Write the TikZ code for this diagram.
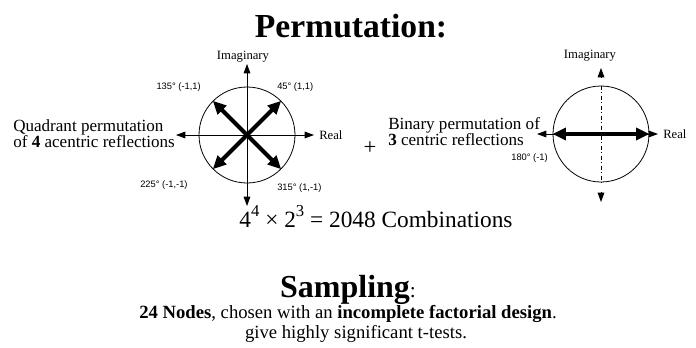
\documentclass[tikz,border=0pt]{standalone}
\usepackage{fontspec}
\setmainfont{Liberation Serif}
\newfontfamily\lblfont{Liberation Sans}
\usetikzlibrary{arrows.meta}
\begin{document}
\begin{tikzpicture}[x=0.75pt,y=-0.75pt,
  axis/.style={line width=0.6pt,{Triangle[length=7pt,width=5pt]}-{Triangle[length=7pt,width=5pt]}},
  tiponly/.style={line width=0.6pt,-{Triangle[length=7pt,width=5pt]}},
  thickarr/.style={line width=3pt,-{Triangle[length=10pt,width=9pt]}},
  thickdbl/.style={line width=3pt,{Triangle[length=10pt,width=9pt]}-{Triangle[length=10pt,width=9pt]}},
  ring/.style={draw,circle,line width=0.6pt,minimum size=72pt,inner sep=0pt},
  deg/.style={inner sep=0pt,font=\lblfont\fontsize{7}{8}\selectfont},
  axlbl/.style={inner sep=0pt,font=\fontsize{9.5}{11}\selectfont},
  desc/.style={inner sep=0pt,anchor=base west,font=\fontsize{12.8}{14}\selectfont},
  body/.style={inner sep=0pt,anchor=base,font=\fontsize{14}{17}\selectfont}]
\useasboundingbox (0,0) rectangle (696,347);
% title
\node[inner sep=0pt,anchor=base] (title) at (351,37) {\fontsize{25.2}{30}\selectfont\bfseries Permutation:};
% left diagram
\node[ring] (lc) at (247,135) {};
\coordinate (lW) at (176,135);
\coordinate (lE) at (314,135);
\coordinate (lN) at (247,64);
\coordinate (lS) at (247,206);
\draw[axis] (lW) -- (lE);
\draw[axis] (lN) -- (lS);
\draw[thickarr] (lc.center) -- (lc.45);
\draw[thickarr] (lc.center) -- (lc.135);
\draw[thickarr] (lc.center) -- (lc.225);
\draw[thickarr] (lc.center) -- (lc.315);
\node[axlbl] (limag) at (243,57) {Imaginary};
\node[axlbl,anchor=west] (lreal) at (319,135) {Real};
\node[deg,anchor=east] (d135) at (201,87) {135° (-1,1)};
\node[deg,anchor=west] (d45) at (277,87) {45° (1,1)};
\node[deg,anchor=west] (d225) at (140,185) {225° (-1,-1)};
\node[deg,anchor=west] (d315) at (277,188) {315° (1,-1)};
\node[desc] (lt1) at (13,131) {Quadrant permutation};
\node[desc] (lt2) at (13,147.5) {of \textbf{4} acentric reflections};
% plus
\node[inner sep=0pt] (plus) at (370,148) {\fontsize{17}{20}\selectfont +};
% right diagram
\node[desc] (rt1) at (388,129) {Binary permutation of};
\node[desc] (rt2) at (388,145.5) {\textbf{3} centric reflections};
\node[ring] (rc) at (601,134) {};
\coordinate (rW) at (537,134);
\coordinate (rE) at (658,134);
\coordinate (rN) at (601,68);
\coordinate (rS) at (601,202);
\draw[axis] (rW) -- (rE);
\draw[line width=0.5pt,dash dot] (rc.north) -- (rc.south);
\draw[tiponly] (601,78) -- (rN);
\draw[tiponly] (601,192) -- (rS);
\draw[thickdbl] (rc.west) -- (rc.east);
\node[axlbl] (rimag) at (590,56) {Imaginary};
\node[axlbl,anchor=west] (rreal) at (663,134) {Real};
\node[deg,anchor=east] (d180) at (548,158) {180° (-1)};
% formula
\node[inner sep=0pt,anchor=base] (formula) at (376,227) {\fontsize{17.5}{20}\selectfont 4\raisebox{0.45em}{\fontsize{12.5}{14}\selectfont 4} × 2\raisebox{0.45em}{\fontsize{12.5}{14}\selectfont 3} = 2048 Combinations};
% sampling
\node[inner sep=0pt,anchor=base] (samp) at (348,297) {\fontsize{24}{28}\selectfont\bfseries Sampling\mdseries\fontsize{16}{20}\selectfont:};
\node[body] (s1) at (348,318) {\textbf{24 Nodes}, chosen with an \textbf{incomplete factorial design}.};
\node[body] (s2) at (356,338) {give highly significant t-tests.};
\end{tikzpicture}
\end{document}
